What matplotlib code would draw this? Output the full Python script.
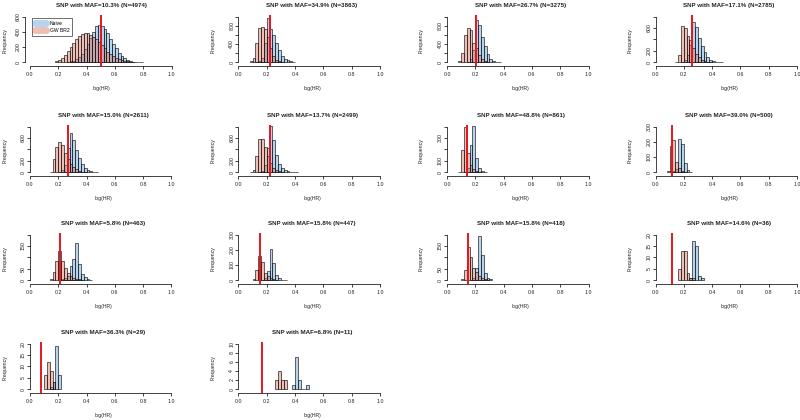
"""Grid of log(HR) histograms: naive vs GW BR2 estimates per SNP group."""

import matplotlib.pyplot as plt
from matplotlib.lines import Line2D

plt.rcParams['font.family'] = ['Liberation Sans', 'DejaVu Sans']

BIN = 0.02

maf = ["10.3", "34.9", "26.7", "17.1", "15.0", "13.7", "48.8", "39.0",
       "5.8", "15.8", "15.8", "14.6", "36.3", "6.8"]
n_snps = [4974, 3863, 3275, 2785, 2611, 2499, 861, 500, 463, 447, 418, 36, 29, 11]
true_hr = [0.50, 0.22, 0.205, 0.26, 0.27, 0.22, 0.14, 0.115, 0.21, 0.155, 0.15, 0.118, 0.076, 0.164]

# histogram counts (bin width 0.02), first bin left edge in *_start
gw_start = [0.18, 0.08, 0.08, 0.14, 0.14, 0.08, 0.08, 0.08, 0.14, 0.10, 0.10, 0.16, 0.10, 0.26]
gw_counts = [
    [10, 30, 60, 100, 150, 200, 250, 300, 340, 370, 390, 380, 360, 330, 300, 260,
     220, 180, 140, 110, 80, 60, 40, 25, 15, 10, 5, 3],
    [15, 80, 430, 760, 780, 720, 560, 300, 130, 50, 20, 10],
    [20, 200, 600, 760, 700, 430, 300, 150, 60, 25, 10],
    [10, 120, 630, 600, 460, 390, 250, 150, 90, 40, 20, 10, 5],
    [10, 230, 450, 530, 480, 330, 230, 150, 90, 50, 25, 10, 5],
    [5, 40, 280, 575, 575, 450, 280, 160, 80, 35, 15, 5],
    [5, 190, 400, 170, 60, 25, 8, 3],
    [8, 175, 210, 70, 28, 7, 2],
    [5, 35, 85, 128, 85, 55, 30, 20, 10, 6, 3, 1],
    [5, 70, 156, 120, 50, 25, 12, 6, 3],
    [5, 45, 147, 100, 55, 35, 18, 8, 4, 1],
    [5, 13, 13, 3, 1, 1],
    [6, 12, 8, 3],
    [2, 4, 2, 2],
]
naive_start = [0.26, 0.12, 0.14, 0.18, 0.20, 0.14, 0.12, 0.12, 0.22, 0.16, 0.16, 0.24, 0.14, 0.38]
naive_counts = [
    [5, 10, 20, 40, 70, 110, 170, 240, 320, 400, 470, 490, 480, 440, 380, 310,
     240, 180, 120, 80, 50, 30, 15, 8, 4, 2, 1],
    [5, 20, 100, 420, 960, 720, 600, 420, 260, 140, 70, 40, 20, 10],
    [10, 60, 260, 930, 820, 560, 350, 170, 70, 30, 12, 5],
    [10, 30, 120, 300, 700, 610, 420, 280, 170, 90, 40, 15, 6, 3, 2],
    [10, 30, 120, 420, 680, 560, 380, 240, 140, 70, 40, 15, 8, 4],
    [5, 20, 120, 420, 810, 560, 300, 150, 80, 35, 15, 8, 4, 2],
    [5, 40, 240, 405, 120, 35, 12, 4],
    [5, 20, 220, 185, 58, 15, 3],
    [3, 8, 20, 60, 95, 164, 70, 25, 12, 4, 2],
    [3, 15, 60, 206, 110, 35, 12, 4, 2],
    [2, 10, 55, 196, 110, 33, 9, 3],
    [1, 17, 15, 2, 1],
    [1, 3, 19, 6],
    [1, 7, 2, 0, 0, 1],
]

# y axis: top tick, tick step, which ticks carry a label
y_top = [600, 1000, 1000, 800, 800, 800, 400, 300, 200, 300, 200, 20, 20, 10]
y_step = [200, 200, 200, 200, 200, 200, 100, 100, 50, 100, 50, 5, 5, 2]
y_labeled = [[0, 200, 400, 600], [0, 400, 800], [0, 400, 800], [0, 200, 600],
             [0, 200, 600], [0, 200, 600], [0, 100, 300], [0, 100, 200, 300],
             [0, 50, 150], [0, 100, 200, 300], [0, 50, 150],
             [0, 5, 10, 15, 20], [0, 5, 10, 15, 20], [0, 2, 4, 6, 8, 10]]
x_ticks = [0.0, 0.2, 0.4, 0.6, 0.8, 1.0]

NAIVE_COL = (0.30, 0.60, 0.85, 0.42)
GW_COL = (0.85, 0.40, 0.30, 0.42)
INK = "#222222"

W, H = 800, 420
col_x0 = [30, 238.5, 447, 655.5]      # pixel of logHR = 0
col_ylab = [4.5, 212.5, 421, 629.5]   # pixel centre of "Frequency"
row_axis_y = [66, 176, 284, 393]      # pixel of x-axis line
unit_px = 141.5
plot_h = 51

fig = plt.figure(figsize=(8, 4.2), dpi=100)

for i in range(len(maf)):
    r, c = divmod(i, 4)
    xmin = -0.035 if i == 0 else 0.0
    xmax = 1.04
    left = col_x0[c] + xmin * unit_px
    width = (xmax - xmin) * unit_px
    ax = fig.add_axes([left / W, (H - row_axis_y[r]) / H, width / W, plot_h / H])

    gx = [gw_start[i] + k * BIN for k in range(len(gw_counts[i]))]
    nx = [naive_start[i] + k * BIN for k in range(len(naive_counts[i]))]
    ax.bar(nx, naive_counts[i], width=BIN, align="edge", color=NAIVE_COL,
           edgecolor="#111111", linewidth=0.45)
    ax.bar(gx, gw_counts[i], width=BIN, align="edge", color=GW_COL,
           edgecolor="#111111", linewidth=0.45)
    ax.axvline(true_hr[i], color="#e8141c", linewidth=1.4)

    T = y_top[i]
    ax.set_xlim(xmin, xmax)
    ax.set_ylim(-0.085 * T, 1.035 * T)

    ax.set_xticks(x_ticks)
    ax.set_xticklabels([f"{v:.1f}" for v in x_ticks])
    yt = list(range(0, T + 1, y_step[i]))
    ax.set_yticks(yt)
    ax.set_yticklabels([str(v) if v in y_labeled[i] else "" for v in yt],
                       rotation=90, va="center")

    for side in ("top", "right"):
        ax.spines[side].set_visible(False)
    ax.spines["left"].set_bounds(0, T)
    ax.spines["bottom"].set_bounds(0, 1)
    for side in ("left", "bottom"):
        ax.spines[side].set_linewidth(0.6)
        ax.spines[side].set_color(INK)
    ax.tick_params(axis="x", length=2.5, width=0.6, pad=2, labelsize=3.8,
                   colors=INK)
    ax.tick_params(axis="y", length=2, width=0.6, pad=1, labelsize=3.8,
                   colors=INK)

    ax.set_title(f"SNP with MAF={maf[i]}% (N={n_snps[i]})", fontsize=4.5,
                 fontweight="bold", pad=6, color=INK)
    ax.set_xlabel("log(HR)", fontsize=3.7, labelpad=6.5, color=INK)
    ax.set_ylabel("Frequency", fontsize=3.8, color=INK)
    ax.yaxis.set_label_coords((col_ylab[c] + 2.9 - left) / width, 0.5)

    if i == 0:
        handles = [
            Line2D([], [], color=NAIVE_COL, lw=5, solid_capstyle="round"),
            Line2D([], [], color=GW_COL, lw=5, solid_capstyle="round"),
        ]
        leg = ax.legend(handles, ["Naive", "GW BR2"], loc="upper left",
                        bbox_to_anchor=(0.046, 0.94), borderaxespad=0,
                        fontsize=3.6, frameon=True, fancybox=False,
                        handlelength=2.2, borderpad=0.5, labelspacing=0.5)
        leg.get_frame().set_edgecolor("black")
        leg.get_frame().set_linewidth(0.5)

fig.savefig("out.png", dpi=100)
